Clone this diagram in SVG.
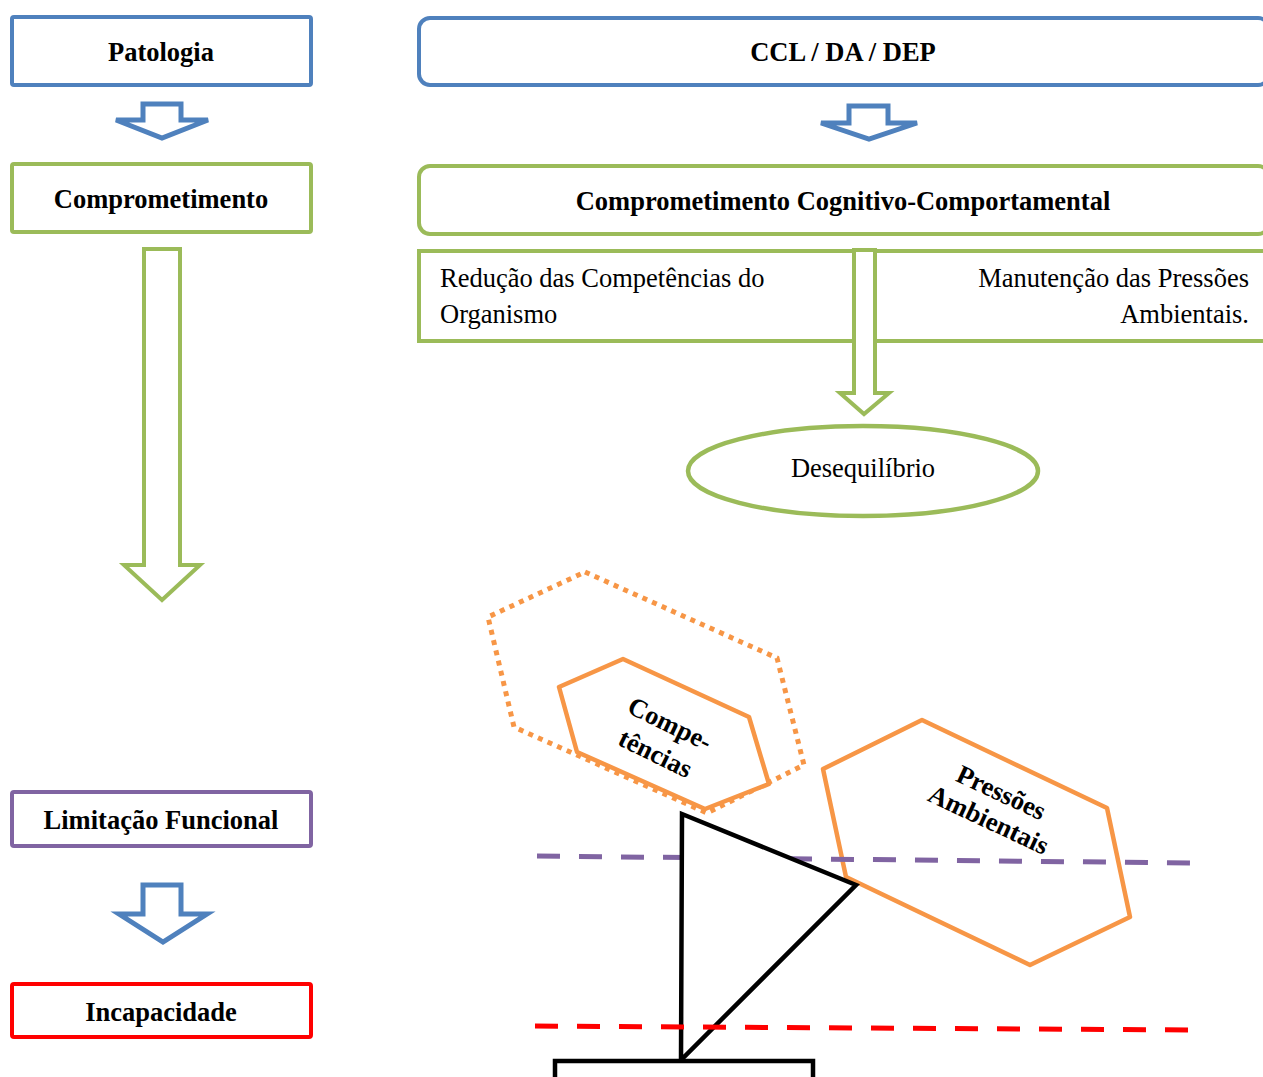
<svg xmlns="http://www.w3.org/2000/svg" width="1263" height="1077" viewBox="0 0 1263 1077">
  <style>
    .box { fill: #ffffff; stroke-width: 4; }
    .blue { stroke: #4F81BD; }
    .green { stroke: #9BBB59; }
    .purple { stroke: #8064A2; }
    .red { stroke: #FF0000; }
    .lbl { font-family: "Liberation Serif", "Times New Roman", serif; font-size: 26.5px; fill: #000000; }
    .b { font-weight: bold; }
    .mid { text-anchor: middle; }
    .end { text-anchor: end; }
    .hex { fill: none; stroke: #F79646; stroke-width: 4.5; stroke-linejoin: round; }
    .arrow { fill: #ffffff; stroke-width: 4; stroke-linejoin: miter; }
    .arrow.blue { stroke-width: 5; }
    .dash { fill: none; stroke-width: 5; stroke-dasharray: 23 19; }
  </style>
  <rect width="1263" height="1077" fill="#ffffff"/>

  <!-- left column -->
  <g id="patologia">
    <rect class="box blue" x="12" y="17" width="299" height="68" rx="2"/>
    <text class="lbl b mid" x="161" y="61">Patologia</text>
  </g>
  <g id="comprometimento">
    <rect class="box green" x="12" y="164" width="299" height="68" rx="2"/>
    <text class="lbl b mid" x="161" y="208">Comprometimento</text>
  </g>
  <g id="limitacao">
    <rect class="box purple" x="12" y="792" width="299" height="54" rx="2"/>
    <text class="lbl b mid" x="161" y="829">Limitação Funcional</text>
  </g>
  <g id="incapacidade">
    <rect class="box red" x="12" y="984" width="299" height="53" rx="2"/>
    <text class="lbl b mid" x="161" y="1021">Incapacidade</text>
  </g>

  <!-- right column -->
  <g id="ccl">
    <rect class="box blue" x="419" y="18" width="850" height="67" rx="11"/>
    <text class="lbl b mid" x="843" y="61">CCL / DA / DEP</text>
  </g>
  <g id="comprometimento-cc">
    <rect class="box green" x="419" y="166" width="850" height="68" rx="11"/>
    <text class="lbl b mid" x="843" y="210">Comprometimento Cognitivo-Comportamental</text>
  </g>
  <g id="reducao">
    <rect class="box green" x="419" y="251" width="441" height="90"/>
    <text class="lbl" x="440" y="287">Redução das Competências do</text>
    <text class="lbl" x="440" y="323">Organismo</text>
  </g>
  <g id="manutencao">
    <rect class="box green" x="868" y="251" width="410" height="90"/>
    <text class="lbl end" x="1249" y="287">Manutenção das Pressões</text>
    <text class="lbl end" x="1249" y="323">Ambientais.</text>
  </g>
  <g id="desequilibrio">
    <ellipse cx="863" cy="471" rx="175" ry="45" fill="#ffffff" stroke="#9BBB59" stroke-width="4.5"/>
    <text class="lbl mid" x="863" y="477">Desequilíbrio</text>
  </g>

  <!-- block arrows -->
  <g id="connectors">
    <polygon class="arrow blue" points="143,104 181,104 181,120 208,120 162,138 116,120 143,120"/>
    <polygon class="arrow green" points="144,249 180,249 180,565 200,565 162,600 124,565 144,565"/>
    <polygon class="arrow blue" points="143,885 181,885 181,914 207,914 163,942 119,914 143,914"/>
    <polygon class="arrow blue" points="849,106 888,106 888,123 917,123 869,139 821,123 849,123"/>
    <polygon class="arrow green" points="854,250 875,250 875,393 889,393 864,414 840,393 854,393"/>
  </g>

  <!-- balance scene -->
  <g id="pressoes">
    <polygon class="hex" points="922,720 1107,808 1130,917 1030,965 846,877 823,769"/>
    <g transform="translate(995,806) rotate(25)">
      <text class="lbl b mid" x="0" y="-6">Pressões</text>
      <text class="lbl b mid" x="0" y="24">Ambientais</text>
    </g>
  </g>
  <path class="dash purple" d="M537,856 L1190,863"/>
  <g id="fulcro">
    <polygon points="682,814 856,885 681,1060" fill="#ffffff" stroke="#000000" stroke-width="4.5" stroke-linejoin="miter"/>
    <rect x="555" y="1061" width="258" height="24" fill="#ffffff" stroke="#000000" stroke-width="4.5"/>
  </g>
  <path class="dash red" d="M535,1026 L1188,1030"/>
  <g id="competencias">
    <polygon points="585,572 777,658 804,765 707,813 514,727 488,617" fill="none" stroke="#F79646" stroke-width="5" stroke-dasharray="5 5.5"/>
    <polygon class="hex" style="fill:#ffffff" points="623,659 749,717 769,784 705,809 577,752 559,687"/>
    <g transform="translate(663,738) rotate(26)">
      <text class="lbl b mid" x="0" y="-7">Compe-</text>
      <text class="lbl b mid" x="0" y="26">tências</text>
    </g>
  </g>
</svg>
